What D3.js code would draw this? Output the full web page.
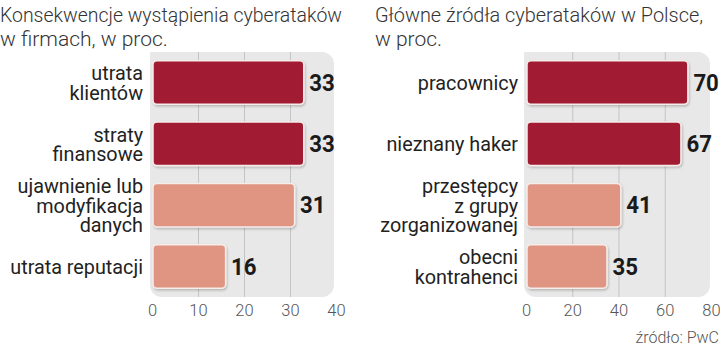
<!DOCTYPE html>
<html><head><meta charset="utf-8">
<script src="https://cdn.jsdelivr.net/npm/d3@7/dist/d3.min.js"></script>
<style>
html,body{margin:0;padding:0;background:#fff;}
svg{display:block;}
</style></head>
<body>
<svg id="chart" width="720" height="347"></svg>
<script>
// ---- data ----
const leftTitle = ["Konsekwencje wystąpienia cyberataków", "w firmach, w proc."];
const leftCategories = ["utrata\nklientów", "straty\nfinansowe", "ujawnienie lub\nmodyfikacja\ndanych", "utrata reputacji"];
const leftValues = [33, 33, 31, 16];
const leftTicks = [0, 10, 20, 30, 40];

const rightTitle = ["Główne źródła cyberataków w Polsce,", "w proc."];
const rightCategories = ["pracownicy", "nieznany haker", "przestępcy\nz grupy\nzorganizowanej", "obecni\nkontrahenci"];
const rightValues = [70, 67, 41, 35];
const rightTicks = [0, 20, 40, 60, 80];

const highlight = [true, true, false, false];
const sourceText = "źródło: PwC";

// ---- drawing ----
const svg = d3.select("#chart");
const defs = svg.append("defs");
const f = defs.append("filter").attr("id","shadow").attr("x","-10%").attr("y","-20%").attr("width","130%").attr("height","150%");
f.append("feDropShadow").attr("dx",1).attr("dy",1.5).attr("stdDeviation",1.2).attr("flood-color","#000").attr("flood-opacity",0.22);

const DARK = "#a11d31", LIGHT = "#df9581";

function panel(opts){
  const {title, titleX, titleW, cats, vals, ticks, x0, x1, bgLeft, bgRight, labelX} = opts;
  const g = svg.append("g");
  // title
  title.forEach((t,i)=>{
    const tx = g.append("text")
      .attr("x", titleX).attr("y", 21.5 + i*24.5)
      .attr("font-family","Roboto").attr("font-weight",300)
      .attr("font-size",21).attr("fill","#333")
      .text(t);
    if(i===0) tx.attr("textLength", titleW).attr("lengthAdjust","spacingAndGlyphs");
  });
  const x = d3.scaleLinear().domain([ticks[0], ticks[ticks.length-1]]).range([x0, x1]);
  const y = d3.scaleBand().domain(d3.range(cats.length)).range([52, 297]).paddingInner(0.29).paddingOuter(0.144);
  // background
  g.append("rect").attr("x", bgLeft).attr("y", 52).attr("width", bgRight-bgLeft).attr("height", 245)
    .attr("rx", 12).attr("fill", "#e8e8e8");
  g.append("rect").attr("x", bgLeft).attr("y", 52).attr("width", 20).attr("height", 20).attr("fill", "#e8e8e8");
  // gridlines
  g.selectAll(".grid").data(ticks.slice(1,-1)).enter().append("line")
    .attr("x1", d=>x(d)+0.5).attr("x2", d=>x(d)+0.5).attr("y1", 52).attr("y2", 297)
    .attr("stroke","#c4c4c4").attr("stroke-width",1);
  // axis
  const axis = d3.axisBottom(x).tickValues(ticks).tickSize(0).tickPadding(0);
  const ag = g.append("g").attr("transform", "translate(0,316)").call(axis);
  ag.select(".domain").remove();
  ag.selectAll("text").attr("dy", 0).attr("font-family","Roboto").attr("font-weight",300)
    .attr("font-size",16.5).attr("fill","#555");
  // bars
  g.selectAll(".bar").data(vals).enter().append("rect")
    .attr("x", x(0)+1).attr("y", (d,i)=>y(i))
    .attr("width", d=>x(d)-x(0)-1).attr("height", y.bandwidth())
    .attr("rx", 4).attr("fill", (d,i)=>highlight[i]?DARK:LIGHT)
    .attr("stroke","#f6ecea").attr("stroke-width",1.5)
    .attr("filter","url(#shadow)");
  // values
  g.selectAll(".val").data(vals).enter().append("text")
    .attr("x", d=>x(d)+5.5).attr("y", (d,i)=>y(i)+y.bandwidth()/2+8.3)
    .attr("font-family","Roboto").attr("font-weight",700).attr("font-size",23.5)
    .attr("textLength", 25.5).attr("lengthAdjust","spacingAndGlyphs")
    .attr("fill","#1a1a1a").text(d=>d);
  // category labels
  cats.forEach((c,i)=>{
    const lines = c.split("\n");
    const cy = y(i)+y.bandwidth()/2;
    const lh = 19.5;
    lines.forEach((l,j)=>{
      g.append("text").attr("text-anchor","end")
        .attr("font-family","Roboto").attr("font-size",19.8).attr("fill","#222")
        .attr("x", labelX)
        .attr("y", cy + (j-(lines.length-1)/2)*lh + 7.5).text(l);
    });
  });
}

panel({title:leftTitle, titleX:0, titleW:342, cats:leftCategories, vals:leftValues, ticks:leftTicks,
  x0:152, x1:336, bgLeft:150, bgRight:334, labelX:143});
panel({title:rightTitle, titleX:375, titleW:328, cats:rightCategories, vals:rightValues, ticks:rightTicks,
  x0:526, x1:711, bgLeft:524, bgRight:710, labelX:518});

svg.append("text").attr("x", 719).attr("y", 343).attr("text-anchor","end")
  .attr("font-family","Roboto").attr("font-weight",300).attr("font-size",16).attr("fill","#555")
  .text(sourceText);
</script>
</body></html>
